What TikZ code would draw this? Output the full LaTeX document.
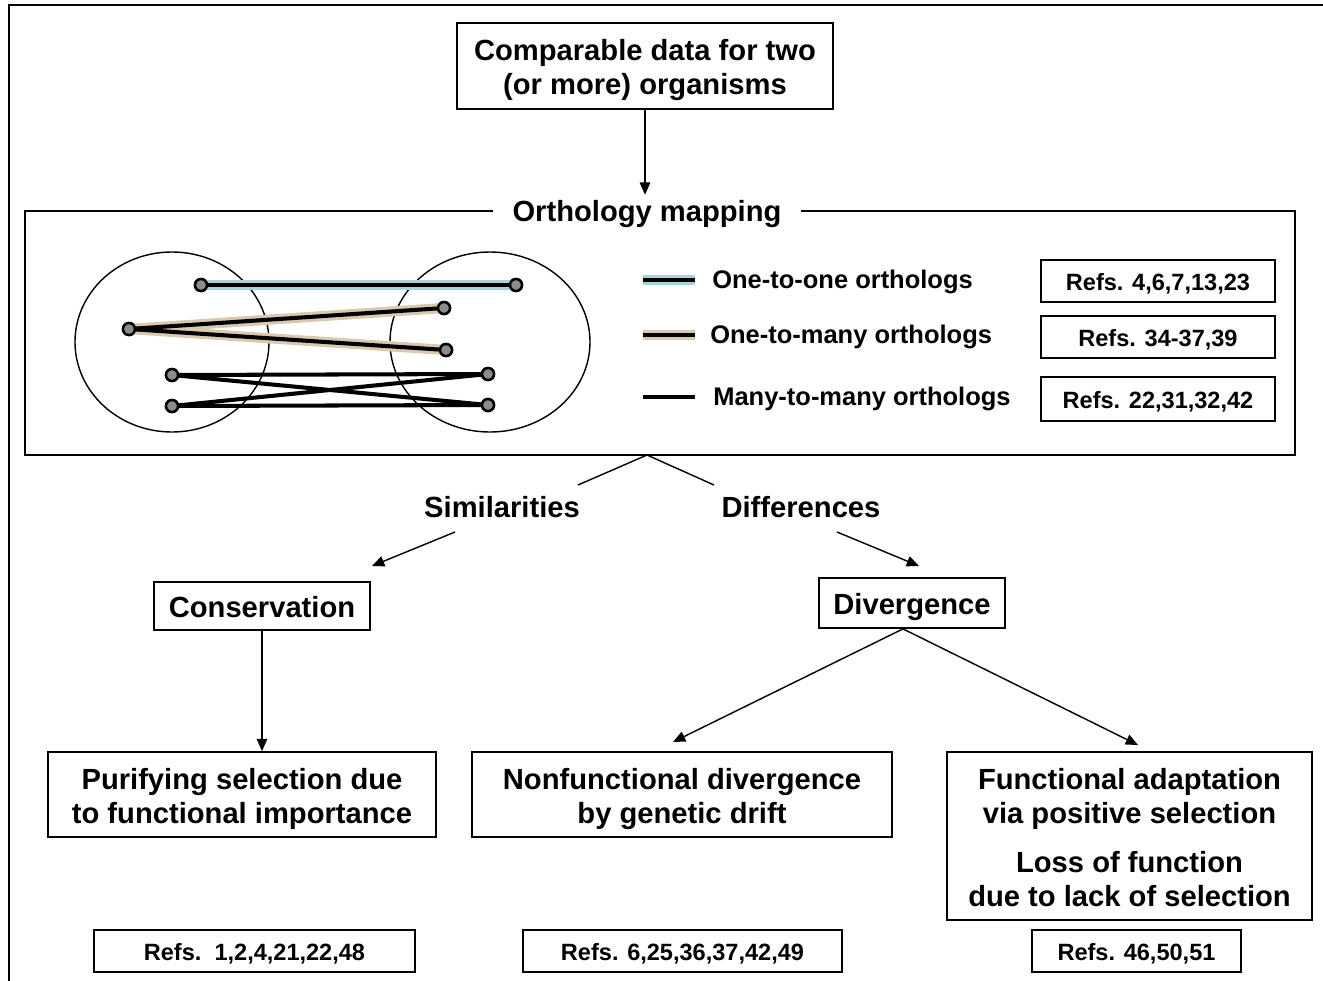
\documentclass[tikz,border=0pt]{standalone}
\usepackage{fontspec}
\setmainfont{Liberation Sans}
\usetikzlibrary{arrows.meta}
\definecolor{haloblue}{HTML}{A9D3DA}
\definecolor{halotan}{HTML}{D9C9AE}
\newcommand\fbig{\fontsize{16.6}{19.3}\selectfont\bfseries}
\newcommand\fleg{\fontsize{14.5}{17}\selectfont\bfseries}
\newcommand\fref{\fontsize{13.4}{16}\selectfont\bfseries}
\newcommand\hs{\rule{0pt}{1.02em}}
\newcommand\ds{\rule[-0.2em]{0pt}{0.2em}}
\tikzset{
  box/.style 2 args={draw, line width=1pt, inner sep=0pt, align=center,
    minimum width=#1*0.02cm, minimum height=#2*0.02cm},
  bigbox/.style 2 args={box={#1}{#2}, font=\fbig},
  refbox/.style 2 args={box={#1}{#2}, font=\fref},
  arr/.style={line width=0.8pt, -{Triangle[length=7pt,width=6pt]}},
  plain/.style={line width=0.8pt},
  dot/.style={circle, draw, line width=1.4pt, fill=black!45, minimum size=0.24cm, inner sep=0pt},
  halo/.style={line width=5.8pt, line cap=round},
  core/.style={line width=2.3pt, black},
  ell/.style={draw, line width=0.8pt},
  legtext/.style={anchor=base west, font=\fleg, inner sep=0pt},
}
\begin{document}
\begin{tikzpicture}[x=0.02cm, y=-0.02cm]
\useasboundingbox (0,0) rectangle (1323,981);
% outer frame (only left and top edges visible)
\draw[line width=1.2pt] (9,981) -- (9,5) -- (1323,5);

% top box
\node[bigbox={376}{86}] (top) at (645,66) {\hs Comparable data for two\\(or more) organisms\ds};

% orthology mapping frame
\node[draw, line width=1pt, minimum width=1270*0.02cm, minimum height=244*0.02cm, inner sep=0pt] (ortho) at (660,333) {};
\node[fill=white, font=\fbig, inner xsep=11pt, inner ysep=3pt, anchor=base] (title) at (647,221.5) {Orthology mapping};
\draw[arr] (top.south) -- (top.south |- title.north);

% ellipses
\draw[ell] (172,342) ellipse [x radius=97, y radius=90];
\draw[ell] (490,342) ellipse [x radius=100, y radius=90];

% dots
\node[dot] (a1) at (201,285) {};
\node[dot] (b1) at (516,285) {};
\node[dot] (a2) at (129,329) {};
\node[dot] (b2) at (444,308) {};
\node[dot] (b3) at (446,350) {};
\node[dot] (a3) at (172,375) {};
\node[dot] (a4) at (172,406) {};
\node[dot] (b4) at (488,374) {};
\node[dot] (b5) at (488,405) {};

% halos
\draw[halo, haloblue] (a1.center) -- (b1.center);
\draw[halo, halotan] (a2.center) -- (b2.center);
\draw[halo, halotan] (a2.center) -- (b3.center);
% cores
\draw[core] (a1) -- (b1);
\draw[core] (a2) -- (b2);
\draw[core] (a2) -- (b3);
\draw[core] (a3) -- (b4);
\draw[core] (a3) -- (b5);
\draw[core] (a4) -- (b4);
\draw[core] (a4) -- (b5);
% redraw dots on top
\foreach \d in {a1,b1,a2,b2,b3,a3,a4,b4,b5}{\node[dot] at (\d) {};}

% legend
\coordinate (l1a) at (643,280); \coordinate (l1b) at (695,280);
\coordinate (l2a) at (643,335); \coordinate (l2b) at (695,335);
\coordinate (l3a) at (643,397); \coordinate (l3b) at (695,397);
\draw[line width=5.8pt, haloblue] (l1a) -- (l1b);
\draw[core] (l1a) -- (l1b);
\draw[line width=5.8pt, halotan] (l2a) -- (l2b);
\draw[core] (l2a) -- (l2b);
\draw[core] (l3a) -- (l3b);
\node[legtext] (t1) at (712,288) {One-to-one orthologs};
\node[legtext] (t2) at (710,343) {One-to-many orthologs};
\node[legtext] (t3) at (713,405) {Many-to-many orthologs};
\node[refbox={234}{42}] (r1) at (1158,281) {\hs Refs. 4,6,7,13,23\ds};
\node[refbox={234}{42}] (r2) at (1158,337) {\hs Refs. 34-37,39\ds};
\node[refbox={234}{44}] (r3) at (1158,399) {\hs Refs. 22,31,32,42\ds};

% split
\coordinate (apex) at (647,455);
\coordinate (sl) at (578,485);
\coordinate (sr) at (714,485);
\draw[plain] (sl) -- (apex) -- (sr);
\node[font=\fbig] (sim) at (502,507) {Similarities};
\node[font=\fbig] (dif) at (801,507) {Differences};
\coordinate (simo) at (455,532);
\coordinate (simt) at (372,566);
\coordinate (difo) at (837,532);
\coordinate (dift) at (919,566);
\draw[arr] (simo) -- (simt);
\draw[arr] (difo) -- (dift);

% conservation / divergence
\node[bigbox={216}{48}] (cons) at (262,606) {\hs Conservation\ds};
\node[bigbox={186}{50}] (div) at (912,603) {\hs Divergence\ds};

% bottom boxes
\node[bigbox={388}{85}] (pur) at (242,794.5) {\hs Purifying selection due\\to functional importance\ds};
\node[bigbox={420}{85}] (non) at (682,794.5) {\hs Nonfunctional divergence\\by genetic drift\ds};
\node[bigbox={365}{168}] (fun) at (1129.5,836) {\hs Functional adaptation\\via positive selection\\[8.5pt]Loss of function\\due to lack of selection\ds};

\draw[arr] (cons.south) -- (cons.south |- pur.north);
\coordinate (dl) at (673,742);
\coordinate (dr) at (1138,745);
\draw[arr] ([xshift=-0.18cm]div.south) -- (dl);
\draw[arr] ([xshift=-0.18cm]div.south) -- (dr);

% refs
\node[refbox={321}{42}] (rb1) at (254.5,951) {\hs Refs.\ \ 1,2,4,21,22,48\ds};
\node[refbox={319}{42}] (rb2) at (682.5,951) {\hs Refs. 6,25,36,37,42,49\ds};
\node[refbox={209}{42}] (rb3) at (1136.5,951) {\hs Refs. 46,50,51\ds};
\end{tikzpicture}
\end{document}
